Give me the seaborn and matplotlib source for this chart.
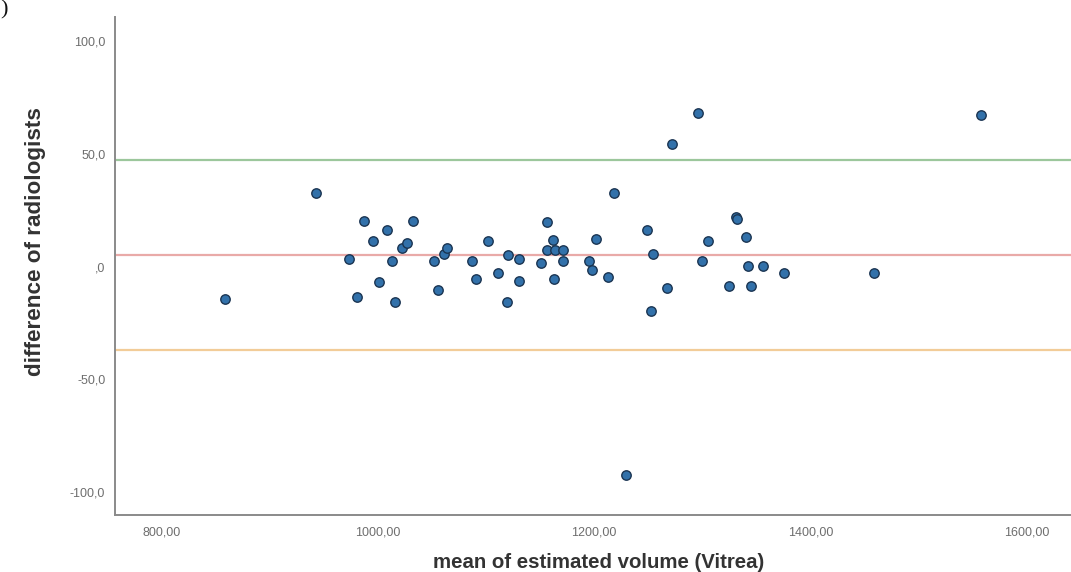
import matplotlib
matplotlib.use("Agg")
import matplotlib.pyplot as plt
from matplotlib.ticker import FuncFormatter, FixedLocator
import seaborn as sns
import pandas as pd

# ---- data ----
mean_volume = [858.5, 942.7, 973.2, 980.9, 986.8, 995.7, 1001.2, 1008.3, 1012.9, 1015.4,
               1022.2, 1027.1, 1032.4, 1052.1, 1055.2, 1060.7, 1063.8, 1087.2, 1090.9, 1101.7,
               1111.4, 1119.6, 1119.9, 1130.1, 1130.1, 1150.7, 1156.3, 1156.3, 1161.8, 1163.7,
               1162.7, 1171.1, 1170.8, 1195.4, 1197.6, 1201.3, 1212.7, 1218.2, 1229.3, 1248.5,
               1252.4, 1254.6, 1267.7, 1272.1, 1295.6, 1299.3, 1304.9, 1325.0, 1331.3, 1331.7,
               1340.0, 1342.6, 1345.2, 1356.5, 1375.7, 1458.9, 1557.6]
difference = [-14.6, 32.5, 3.3, -13.6, 20.4, 11.3, -6.8, 16.4, 2.3, -15.6,
              8.2, 10.3, 20.4, 2.3, -10.6, 5.4, 8.2, 2.3, -5.6, 11.3,
              -2.8, -15.6, 5.2, -6.6, 3.3, 1.4, 19.6, 7.3, 11.6, 7.3,
              -5.6, 7.3, 2.3, 2.4, -1.7, 12.4, -4.7, 32.5, -92.7, 16.4,
              -19.6, 5.5, -9.6, 54.3, 68.2, 2.3, 11.2, -8.7, 22.1, 21.3,
              13.3, 0.2, -8.7, 0.2, -2.8, -2.8, 67.3]
mean_diff = 5.1
upper_loa = 47.5
lower_loa = -37.3
x_ticks = [800, 1000, 1200, 1400, 1600]
y_ticks = [-100, -50, 0, 50, 100]
x_label = "mean of estimated volume (Vitrea)"
y_label = "difference of radiologists"

df = pd.DataFrame({"mean": mean_volume, "diff": difference})

sns.set_style("white")
plt.rcParams["font.family"] = ["Liberation Sans", "DejaVu Sans"]

fig = plt.figure(figsize=(10.71, 5.72), dpi=100)
ax = fig.add_axes([115 / 1071, (572 - 515) / 572, 1 - 115 / 1071, (515 - 16.7) / 572])

ax.axhline(upper_loa, color="#9cc79c", lw=1.6, zorder=1)
ax.axhline(mean_diff, color="#e9aaa8", lw=1.6, zorder=1)
ax.axhline(lower_loa, color="#f2cc98", lw=1.6, zorder=1)

sns.scatterplot(data=df, x="mean", y="diff", ax=ax, s=46,
                color="#3271aa", edgecolor="#1b3552", linewidth=1.0, zorder=3)

ax.set_xlim(756.8, 1641)
ax.set_ylim(-110.4, 111.0)

ax.xaxis.set_major_locator(FixedLocator(x_ticks))
ax.yaxis.set_major_locator(FixedLocator(y_ticks))


def fmt_x(v, pos):
    return f"{v:.2f}".replace(".", ",")


def fmt_y(v, pos):
    s = f"{v:.1f}".replace(".", ",")
    if s in ("0,0", "-0,0"):
        return ",0"
    return s


ax.xaxis.set_major_formatter(FuncFormatter(fmt_x))
ax.yaxis.set_major_formatter(FuncFormatter(fmt_y))
ax.tick_params(axis="both", length=0, labelsize=9, labelcolor="#6e6e6e")
ax.tick_params(axis="x", pad=8)
ax.tick_params(axis="y", pad=7)

for side in ("top", "right"):
    ax.spines[side].set_visible(False)
for side in ("left", "bottom"):
    ax.spines[side].set_color("#8a8a8a")
    ax.spines[side].set_linewidth(1.4)

ax.set_xlabel(x_label, fontsize=14.7, fontweight="bold", color="#333333")
ax.set_ylabel(y_label, fontsize=16.2, fontweight="bold", color="#333333")
ax.xaxis.set_label_coords(0.5055, -0.077)
ax.yaxis.set_label_coords(-0.072, 0.548)

fig.text(0.0, 1.0, ")", fontsize=16, family="Liberation Serif", va="top", ha="left",
         color="#111111")

fig.savefig("out.png", dpi=100)
